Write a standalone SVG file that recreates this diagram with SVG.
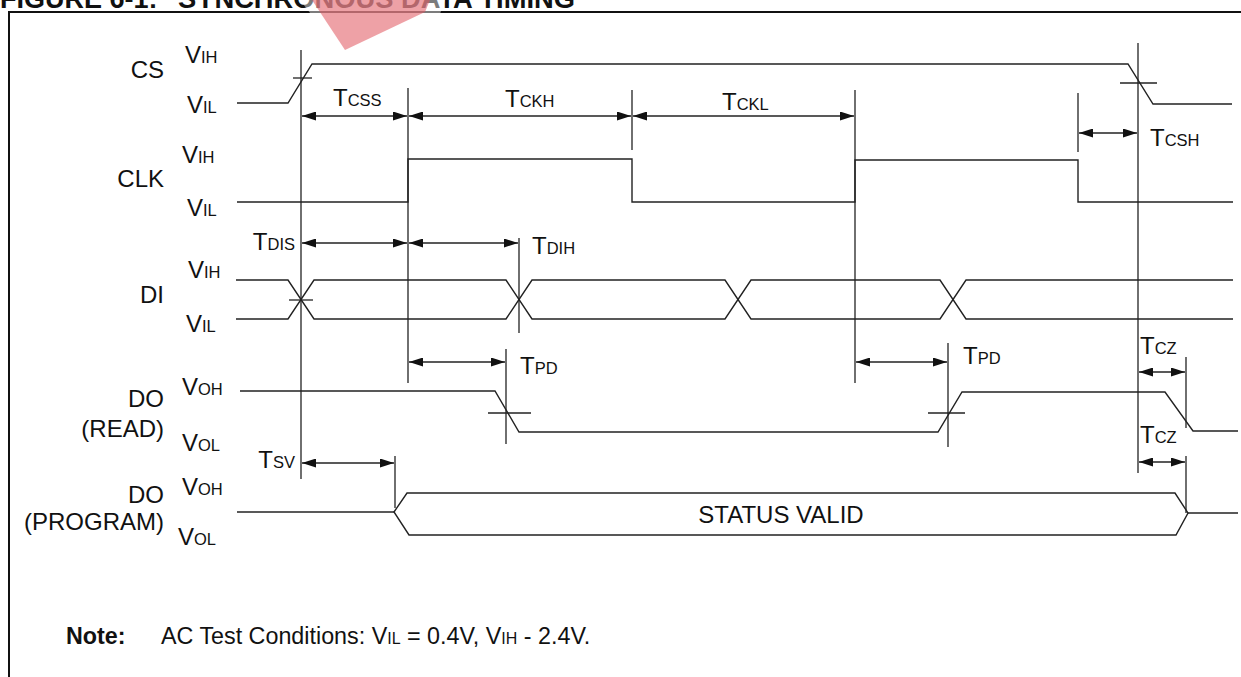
<svg xmlns="http://www.w3.org/2000/svg" width="1241" height="677" viewBox="0 0 1241 677">
<style>
text{font-family:"Liberation Sans",Arial,sans-serif;fill:#111;font-size:24px}
.s{font-size:16.5px}
.n{font-size:23.3px}
.ns{font-size:16px}
.w{fill:none;stroke:#222;stroke-width:1.4;stroke-linejoin:miter}
.t{stroke:#222;stroke-width:1.3;fill:none}
.d{stroke:#222;stroke-width:1.3;fill:none;marker-start:url(#ah);marker-end:url(#ah)}
.b{font-weight:bold}
</style>
<defs>
<marker id="ah" viewBox="0 0 14 9" refX="14" refY="4.5" markerWidth="14" markerHeight="9" markerUnits="userSpaceOnUse" orient="auto-start-reverse">
<path d="M0,0 L14,4.5 L0,9 z" fill="#111"/>
</marker>
</defs>
<rect width="1241" height="677" fill="#fff"/>

<g id="title">
<text class="b" x="0" y="8" style="font-size:27px">FIGURE 6-1:</text>
<text class="b" x="178" y="8" style="font-size:27px" textLength="397" lengthAdjust="spacingAndGlyphs">SYNCHRONOUS DATA TIMING</text>
</g>
<rect id="frame" x="9" y="12" width="1260" height="700" fill="none" stroke="#111" stroke-width="2"/>
<g id="watermark">
<polygon points="300,0 445,0 440,14 345,58" fill="#fff" opacity="0.45"/>
<polygon points="312,0 430,0 425,12 345,50" fill="#e0545c" opacity="0.55"/>
</g>

<g id="cs">
<text x="164" y="78" text-anchor="end">CS</text>
<text x="185" y="63">V<tspan class="s">IH</tspan></text>
<text x="187" y="113">V<tspan class="s">IL</tspan></text>
<polyline class="w" points="237,103 288,103 312,64 1128,64 1153,104 1232,104"/>
<line class="t" x1="293" y1="78" x2="312" y2="78"/>
<line class="t" x1="1120" y1="83" x2="1157" y2="83"/>
</g>

<g id="clk">
<text x="164" y="187" text-anchor="end">CLK</text>
<text x="182" y="163">V<tspan class="s">IH</tspan></text>
<text x="187" y="216">V<tspan class="s">IL</tspan></text>
<polyline class="w" points="237,202 408,202 408,159 632,159 632,202 855,202 855,160 1078,160 1078,202 1233,202"/>
</g>

<g id="di">
<text x="164" y="303" text-anchor="end">DI</text>
<text x="188" y="278">V<tspan class="s">IH</tspan></text>
<text x="186" y="332">V<tspan class="s">IL</tspan></text>
<polyline class="w" points="236,280 288,280 314,319 506,319 532,280 725,280 751,319 940,319 966,280 1233,280"/>
<polyline class="w" points="236,319 288,319 314,280 506,280 532,319 725,319 751,280 940,280 966,319 1233,319"/>
<line class="t" x1="289" y1="300" x2="313" y2="300"/>
</g>

<g id="do-read">
<text x="164" y="407" text-anchor="end">DO</text>
<text x="164" y="437" text-anchor="end">(READ)</text>
<text x="182" y="395">V<tspan class="s">OH</tspan></text>
<text x="182" y="451">V<tspan class="s">OL</tspan></text>
<polyline class="w" points="240,391 495,391 519,432 938,432 962,392 1165,392 1193,431 1238,431"/>
<line class="t" x1="488" y1="413" x2="531" y2="413"/>
<line class="t" x1="928" y1="413" x2="965" y2="413"/>
</g>

<g id="do-program">
<text x="164" y="503" text-anchor="end">DO</text>
<text x="164" y="530" text-anchor="end">(PROGRAM)</text>
<text x="182" y="495">V<tspan class="s">OH</tspan></text>
<text x="178" y="545">V<tspan class="s">OL</tspan></text>
<line class="w" x1="237" y1="512" x2="394" y2="512"/>
<polygon class="w" points="394,512 407,493 1175,493 1188,513 1176,535 409,535"/>
<line class="w" x1="1188" y1="513" x2="1238" y2="513"/>
<text x="781" y="523" text-anchor="middle">STATUS VALID</text>
</g>

<g id="note">
<text class="b n" x="66" y="644">Note:</text>
<text class="n" x="161" y="644">AC Test Conditions: V<tspan class="ns">IL</tspan> = 0.4V, V<tspan class="ns">IH</tspan> - 2.4V.</text>
</g>

<g id="connectors">
<line class="t" x1="301" y1="50" x2="301" y2="479"/>
<line class="t" x1="1138" y1="43" x2="1138" y2="473"/>
<line class="t" x1="408" y1="88" x2="408" y2="383"/>
<line class="t" x1="632" y1="90" x2="632" y2="150"/>
<line class="t" x1="855" y1="90" x2="855" y2="383"/>
<line class="t" x1="1078" y1="93" x2="1078" y2="152"/>
<line class="t" x1="519" y1="238" x2="519" y2="333"/>
<line class="t" x1="506" y1="349" x2="506" y2="444"/>
<line class="t" x1="948" y1="343" x2="948" y2="447"/>
<line class="t" x1="1186" y1="357" x2="1186" y2="428"/>
<line class="t" x1="1186" y1="456" x2="1186" y2="513"/>
<line class="t" x1="395" y1="456" x2="395" y2="508"/>

<line class="d" x1="302" y1="116" x2="407" y2="116"/>
<line class="d" x1="409" y1="116" x2="631" y2="116"/>
<line class="d" x1="633" y1="116" x2="854" y2="116"/>
<line class="d" x1="1079" y1="133" x2="1137" y2="133"/>
<line class="d" x1="302" y1="243" x2="407" y2="243"/>
<line class="d" x1="409" y1="243" x2="518" y2="243"/>
<line class="d" x1="409" y1="362" x2="505" y2="362"/>
<line class="d" x1="856" y1="362" x2="947" y2="362"/>
<line class="d" x1="1139" y1="372" x2="1185" y2="372"/>
<line class="d" x1="1139" y1="462" x2="1185" y2="462"/>
<line class="d" x1="302" y1="463" x2="394" y2="463"/>

<text x="333" y="106">T<tspan class="s">CSS</tspan></text>
<text x="505" y="107">T<tspan class="s">CKH</tspan></text>
<text x="722" y="110">T<tspan class="s">CKL</tspan></text>
<text x="1150" y="146">T<tspan class="s">CSH</tspan></text>
<text x="295" y="250" text-anchor="end">T<tspan class="s">DIS</tspan></text>
<text x="532" y="254">T<tspan class="s">DIH</tspan></text>
<text x="520" y="374">T<tspan class="s">PD</tspan></text>
<text x="963" y="364">T<tspan class="s">PD</tspan></text>
<text x="1140" y="354">T<tspan class="s">CZ</tspan></text>
<text x="1140" y="443">T<tspan class="s">CZ</tspan></text>
<text x="295" y="468" text-anchor="end">T<tspan class="s">SV</tspan></text>
</g>
</svg>
